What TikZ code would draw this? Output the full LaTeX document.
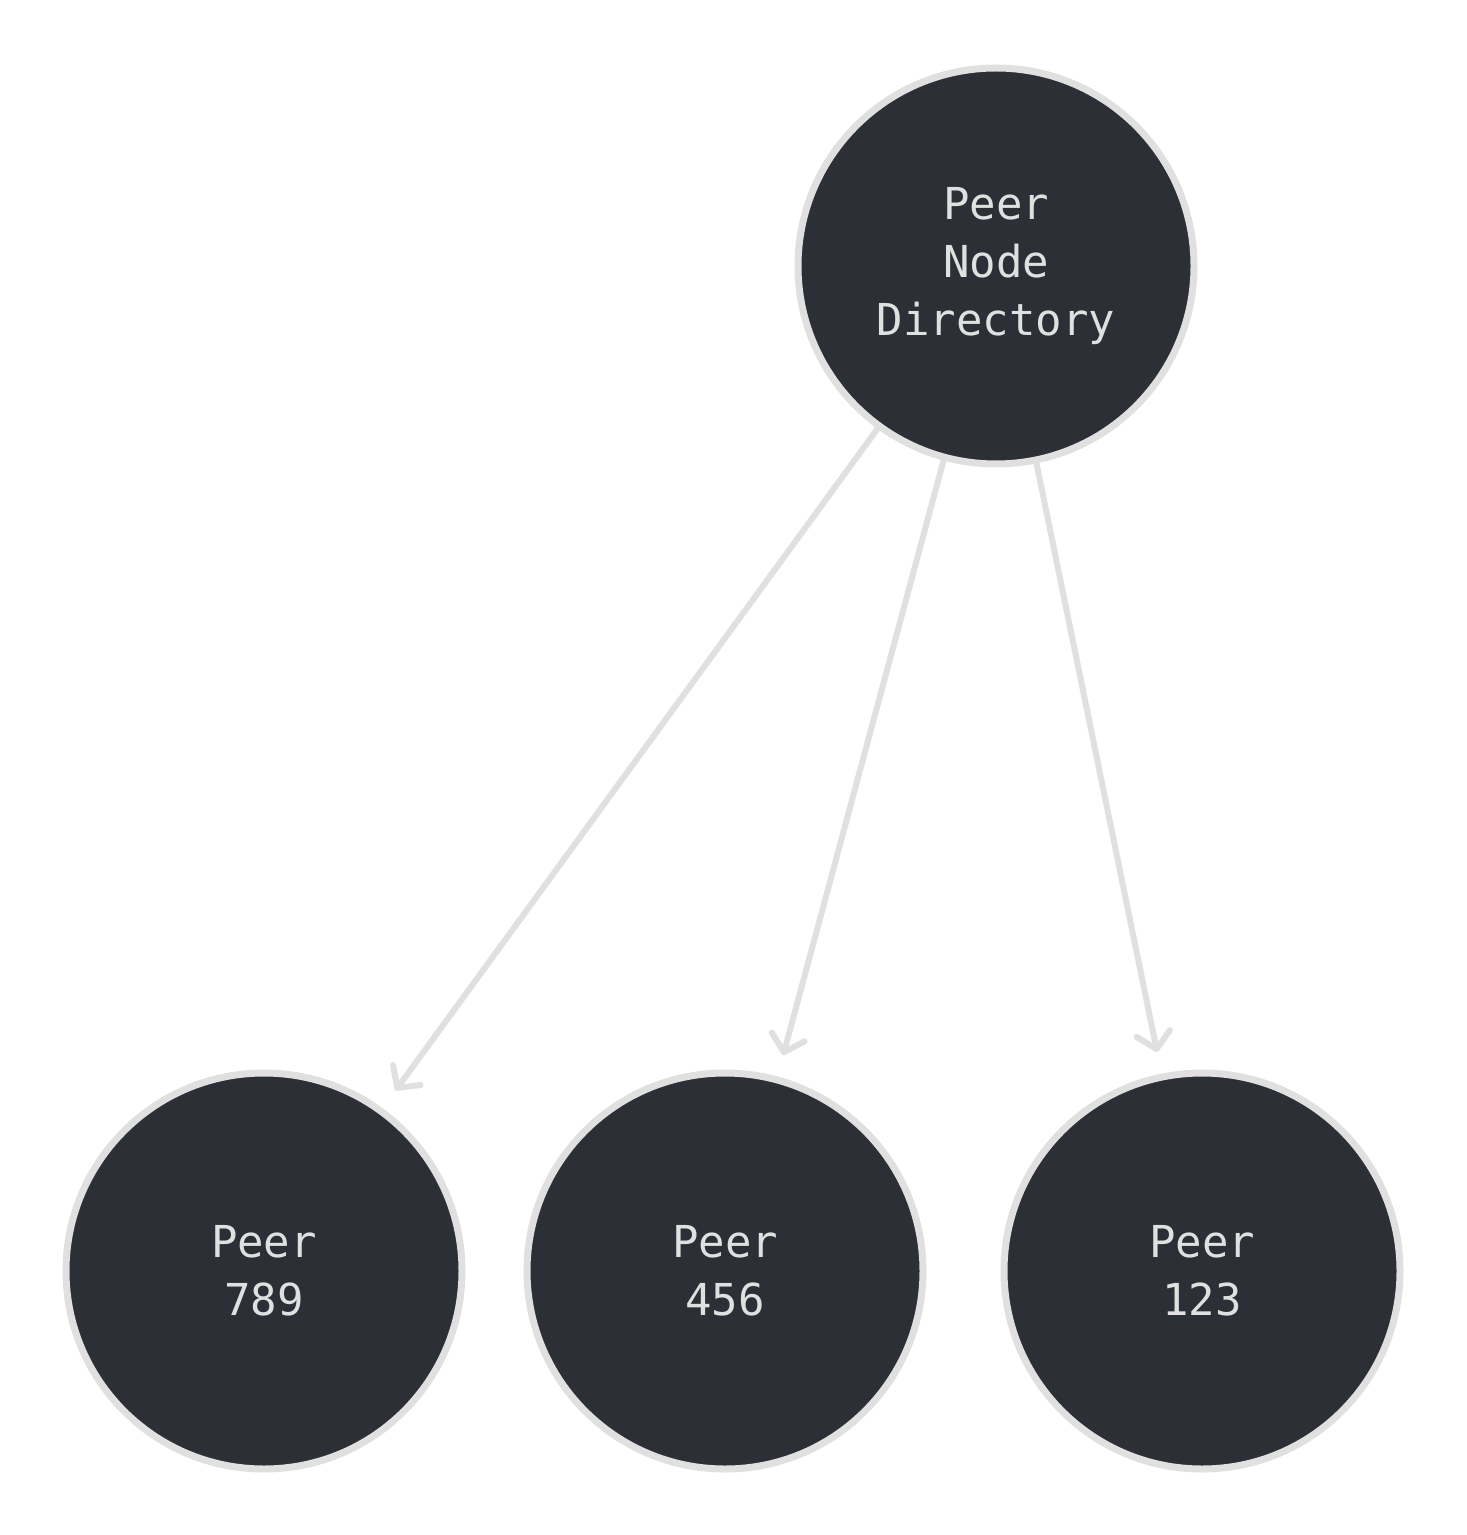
\documentclass[tikz,border=0pt]{standalone}
\usepackage{fontspec}
\newfontfamily\peerfont{DejaVu Sans Mono}
\usetikzlibrary{arrows.meta}
\definecolor{peerfill}{HTML}{2D2F36}
\definecolor{peerline}{HTML}{E0E0E0}
\begin{document}
\begin{tikzpicture}[x=.5pt, y=-.5pt,
    >={Straight Barb[length=8pt,width=17pt,round]},
    peer/.style={circle, draw=peerline, line width=3.5pt, fill=peerfill,
        minimum size=198pt, inner sep=0pt, text=peerline, align=center,
        font=\peerfont\fontsize{22}{29}\selectfont},
    link/.style={->, draw=peerline, line width=3pt, shorten >=11pt}]
    \useasboundingbox (0,0) rectangle (1466,1535);
    \node[peer] (dir) at (996,266) {Peer\\Node\\Directory};
    \node[peer] (p789) at (264,1271) {Peer\\789};
    \node[peer] (p456) at (725,1271) {Peer\\456};
    \node[peer] (p123) at (1202,1271) {Peer\\123};
    % directory points to each peer
    \foreach \p in {p789,p456,p123}
        \draw[link] (dir) -- (\p);
\end{tikzpicture}
\end{document}
